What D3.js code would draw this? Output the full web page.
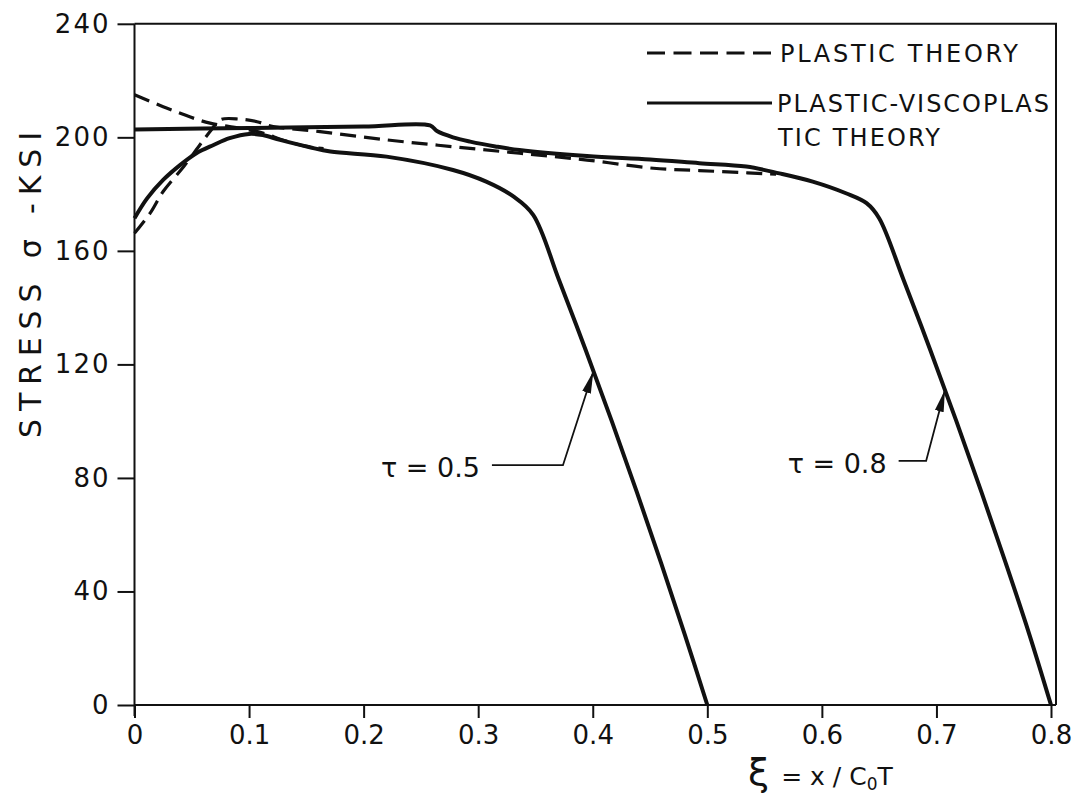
<!DOCTYPE html>
<html>
<head>
<meta charset="utf-8">
<script src="https://cdn.jsdelivr.net/npm/d3@7"></script>
<style>
  body { margin: 0; background: #fff; }
  text { font-family: "DejaVu Sans", sans-serif; fill: #111; }
</style>
</head>
<body>
<svg id="chart"></svg>
<script>
// Curve data (xi = x/C0T, sigma in ksi)
const xiVisco05 = [0, 0.011, 0.025, 0.04, 0.054, 0.069, 0.083, 0.1, 0.112, 0.127, 0.153, 0.171, 0.22, 0.278, 0.307, 0.331, 0.348, 0.3703, 0.3939, 0.4166, 0.4385, 0.4597, 0.4802, 0.5];
const sigVisco05 = [171.5, 178.5, 185, 190.3, 194.4, 197.3, 199.7, 201.2, 200.8, 199.1, 196.5, 195, 193.2, 188.5, 184.4, 179.1, 172.7, 150, 125, 100, 75, 50, 25, 0];

const xiVisco08 = [0, 0.1, 0.2, 0.258, 0.264, 0.278, 0.293, 0.315, 0.336, 0.395, 0.45, 0.493, 0.534, 0.563, 0.592, 0.621, 0.639, 0.65, 0.6711, 0.6947, 0.7174, 0.7393, 0.7605, 0.781, 0.8];
const sigVisco08 = [202.8, 203.3, 203.8, 204.2, 202.2, 200, 198.5, 196.8, 195.5, 193.4, 192.2, 190.9, 189.7, 187.3, 184.4, 180.3, 176.8, 171.5, 150, 125, 100, 75, 50, 25, 0];

// plastic theory (dashed)
const xiPlasticA = [0, 0.025, 0.04, 0.054, 0.066, 0.092, 0.112, 0.13, 0.15, 0.165];
const sigPlasticA = [215, 210.8, 208.5, 206.4, 205, 203.2, 201.5, 199, 196.8, 196];

const xiPlasticB = [0, 0.0135, 0.025, 0.043, 0.057, 0.067, 0.075, 0.092, 0.107, 0.121, 0.162, 0.22, 0.278, 0.336, 0.395, 0.453, 0.493, 0.535, 0.56];
const sigPlasticB = [166.2, 173.2, 180.9, 189.7, 197.3, 202.6, 206.2, 206.4, 205.5, 203.8, 202, 199.1, 196.7, 194.4, 192, 189.1, 188.3, 187.5, 187];

// ticks
const xTicks = [0, 0.1, 0.2, 0.3, 0.4, 0.5, 0.6, 0.7, 0.8];
const xTickLabels = ["0", "0.1", "0.2", "0.3", "0.4", "0.5", "0.6", "0.7", "0.8"];
const yTicks = [0, 40, 80, 120, 160, 200, 240];

// annotations
const tauLabels = ["τ = 0.5", "τ = 0.8"];
const leaderStartXi = [0.312, 0.667];
const leaderCornerXi = [0.374, 0.691];
const leaderSigma = [84.5, 86];
const arrowTipXi = [0.4005, 0.7074];
const arrowTipSigma = [117.5, 111];

const legendLabels = ["PLASTIC THEORY", "PLASTIC-VISCOPLAS", "TIC THEORY"];

// Dimensions
const svgWidth = 1081;
const svgHeight = 805;
const plot = { left: 134.5, right: 1051, top: 23.8, bottom: 705, frameRight: 1056 };

const svg = d3.select('#chart')
  .attr('width', svgWidth)
  .attr('height', svgHeight);

const x = d3.scaleLinear().domain([0, 0.8]).range([plot.left, plot.right]);
const y = d3.scaleLinear().domain([0, 240]).range([plot.bottom, plot.top]);

// arrow marker
svg.append('defs').append('marker')
  .attr('id', 'arrow')
  .attr('markerUnits', 'userSpaceOnUse')
  .attr('markerWidth', 24).attr('markerHeight', 12)
  .attr('viewBox', '0 -6 24 12')
  .attr('refX', 22).attr('refY', 0)
  .attr('orient', 'auto')
  .append('path')
  .attr('d', 'M0,-4.5L22,0L0,4.5Z')
  .attr('fill', '#111');

// frame (top and right)
svg.append('path')
  .attr('d', `M${plot.left},${plot.top}H${plot.frameRight}V${plot.bottom}`)
  .attr('fill', 'none')
  .attr('stroke', '#111')
  .attr('stroke-width', 2);

// axes
const xAxis = d3.axisBottom(x)
  .tickValues(xTicks)
  .tickSize(13)
  .tickPadding(8)
  .tickFormat((d, i) => xTickLabels[i]);

const yAxis = d3.axisLeft(y)
  .tickValues(yTicks)
  .tickSize(17)
  .tickPadding(7)
  .tickFormat(d3.format('d'));

const gx = svg.append('g')
  .attr('transform', `translate(0,${plot.bottom})`)
  .call(xAxis);
const gy = svg.append('g')
  .attr('transform', `translate(${plot.left},0)`)
  .call(yAxis);

gx.select('.domain').attr('d', `M${plot.left},0H${plot.frameRight}`);
gy.select('.domain').attr('d', `M0,${plot.top}V${plot.bottom + 11}`);

[gx, gy].forEach(g => {
  g.selectAll('.domain, .tick line').attr('stroke', '#111').attr('stroke-width', 2);
  g.selectAll('.tick text')
    .style('font-family', '"DejaVu Sans", sans-serif')
    .style('font-size', '26px')
    .attr('fill', '#111');
});
gy.selectAll('.tick text').attr('letter-spacing', 2);

// curves
const line = d3.line()
  .x(d => x(d[0]))
  .y(d => y(d[1]))
  .curve(d3.curveCatmullRom.alpha(0.5));

const solidSeries = [d3.zip(xiVisco05, sigVisco05), d3.zip(xiVisco08, sigVisco08)];
const dashedSeries = [d3.zip(xiPlasticA, sigPlasticA), d3.zip(xiPlasticB, sigPlasticB)];

svg.selectAll('.plastic')
  .data(dashedSeries)
  .enter().append('path')
  .attr('class', 'plastic')
  .attr('d', line)
  .attr('fill', 'none')
  .attr('stroke', '#111')
  .attr('stroke-width', 3.2)
  .attr('stroke-dasharray', '16,8');

svg.selectAll('.visco')
  .data(solidSeries)
  .enter().append('path')
  .attr('class', 'visco')
  .attr('d', line)
  .attr('fill', 'none')
  .attr('stroke', '#111')
  .attr('stroke-width', 4)
  .attr('stroke-linejoin', 'round');

// tau annotations
tauLabels.forEach((lab, i) => {
  svg.append('polyline')
    .attr('points', [
      [x(leaderStartXi[i]), y(leaderSigma[i])],
      [x(leaderCornerXi[i]), y(leaderSigma[i])],
      [x(arrowTipXi[i]), y(arrowTipSigma[i])]
    ].join(' '))
    .attr('fill', 'none')
    .attr('stroke', '#111')
    .attr('stroke-width', 1.8)
    .attr('marker-end', 'url(#arrow)');

  svg.append('text')
    .attr('x', x(leaderStartXi[i]) - 12)
    .attr('y', y(leaderSigma[i]) + 12)
    .attr('text-anchor', 'end')
    .style('font-size', '27px')
    .text(lab);
});

// legend
const legend = svg.append('g');
legend.append('line')
  .attr('x1', 647).attr('x2', 772).attr('y1', 53).attr('y2', 53)
  .attr('stroke', '#111').attr('stroke-width', 3)
  .attr('stroke-dasharray', '18,8.5');
legend.append('line')
  .attr('x1', 647).attr('x2', 772).attr('y1', 103).attr('y2', 103)
  .attr('stroke', '#111').attr('stroke-width', 3);

legend.append('text')
  .attr('x', 780).attr('y', 62)
  .attr('textLength', 238).attr('lengthAdjust', 'spacing')
  .style('font-size', '24px')
  .text(legendLabels[0]);
legend.append('text')
  .attr('x', 777).attr('y', 112)
  .attr('textLength', 272).attr('lengthAdjust', 'spacing')
  .style('font-size', '24px')
  .text(legendLabels[1]);
legend.append('text')
  .attr('x', 778).attr('y', 146)
  .attr('textLength', 162).attr('lengthAdjust', 'spacing')
  .style('font-size', '24px')
  .text(legendLabels[2]);

// axis titles
svg.append('text')
  .attr('transform', 'translate(41,285) rotate(-90)')
  .attr('text-anchor', 'middle')
  .attr('textLength', 306).attr('lengthAdjust', 'spacing')
  .style('font-size', '30px')
  .text('STRESS σ -KSI');

const xt = svg.append('text')
  .attr('x', 748).attr('y', 785);
xt.append('tspan').style('font-size', '38px').text('ξ');
xt.append('tspan').attr('dx', 12).style('font-size', '25px').text('=  x / C');
xt.append('tspan').attr('dy', 5).style('font-size', '17px').text('0');
xt.append('tspan').attr('dy', -5).style('font-size', '25px').text('T');
</script>
</body>
</html>
